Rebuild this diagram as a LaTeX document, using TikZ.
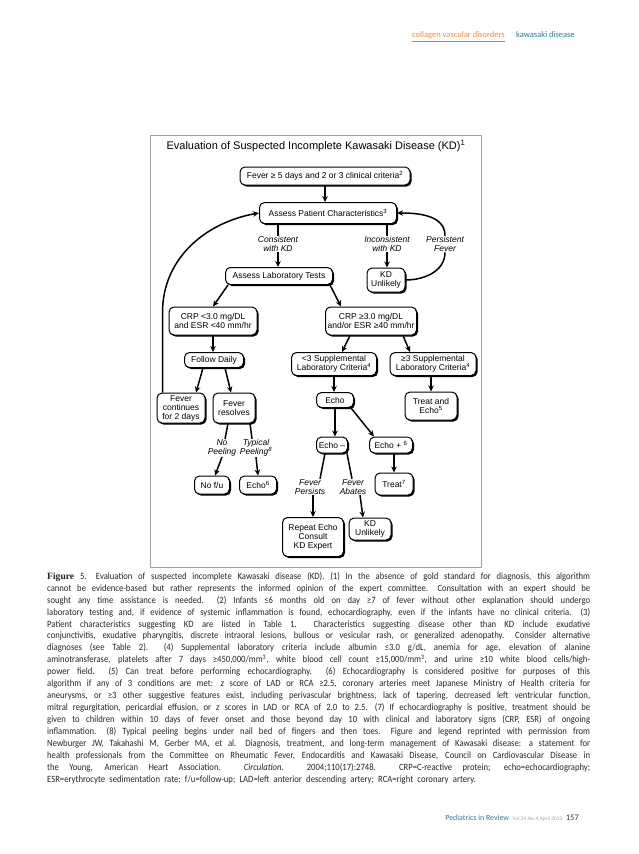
\documentclass[tikz,border=0pt]{standalone}
\usepackage{fontspec}
\setmainfont{Liberation Sans}
\newfontfamily\capfont{Carlito}[FakeStretch=0.9, WordSpace=2.2]
\newfontfamily\hdrfont{Carlito}
\newfontfamily\figfont{Liberation Serif}
\usetikzlibrary{arrows.meta,shadows}
\definecolor{hdrorange}{RGB}{234,142,74}
\definecolor{hdrteal}{RGB}{47,122,150}
\definecolor{framegray}{RGB}{160,160,160}
\newcommand{\capline}[1]{\makebox[543pt][s]{#1}}
\begin{document}
\begin{tikzpicture}[x=1pt,y=-1pt,
    box/.style={draw, line width=1pt, rounded corners=5pt, fill=white, align=center, inner sep=1pt,
      font=\fontsize{8.5}{9}\selectfont,
      drop shadow={shadow xshift=1.5pt, shadow yshift=-1.5pt, opacity=1, fill=black}},
    lbl/.style={align=center, inner sep=0.5pt, font=\fontsize{8.5}{9}\selectfont\itshape},
    arr/.style={line width=1.5pt, -{Stealth[length=6pt,width=5.5pt]}},
    ln/.style={line width=1.5pt}]
  \useasboundingbox (0,0) rectangle (638,854);
  \fill[white] (0,0) rectangle (638,854);
  \node[anchor=base west, inner sep=0, text=hdrorange, font=\hdrfont\fontsize{8.5}{10}\selectfont] (sect) at (412,37) {collagen vascular disorders};
  \node[anchor=base west, inner sep=0, text=hdrteal, font=\hdrfont\fontsize{8.5}{10}\selectfont] (topic) at (516,37) {kawasaki disease};
  \draw[black!45, line width=0.5pt] ([yshift=-3pt]sect.south west) -- ([yshift=-3pt]sect.south east);
  \draw[framegray, line width=0.8pt] (150,135) rectangle (481,567);
  \node[font=\fontsize{11}{13}\selectfont] (title) at (316,146) {Evaluation of Suspected Incomplete Kawasaki Disease (KD)\textsuperscript{1}};
  \node[box, minimum width=170pt, minimum height=18pt] (fev) at (325,176) {Fever ≥ 5 days and 2 or 3 clinical criteria\textsuperscript{2}};
  \node[box, minimum width=137pt, minimum height=21pt] (apc) at (328,213) {Assess Patient Characteristics\textsuperscript{3}};
  \node[lbl] (cons) at (278,244) {Consistent\\with KD};
  \node[lbl] (incons) at (387,244) {Inconsistent\\with KD};
  \node[lbl] (pers) at (445,244) {Persistent\\Fever};
  \node[box, minimum width=107pt, minimum height=17pt] (alt) at (279,276) {Assess Laboratory Tests};
  \node[box, minimum width=38pt, minimum height=24pt] (kdu1) at (386,280) {KD\\Unlikely};
  \node[box, minimum width=88pt, minimum height=28pt] (crpl) at (213,321) {CRP <3.0 mg/DL\\and ESR <40 mm/hr};
  \node[box, minimum width=91pt, minimum height=28pt] (crph) at (371,321) {CRP ≥3.0 mg/DL\\and/or ESR ≥40 mm/hr};
  \node[box, minimum width=59pt, minimum height=15pt] (fd) at (214,360) {Follow Daily};
  \node[box, minimum width=85pt, minimum height=23pt] (supl) at (334,364) {<3 Supplemental\\Laboratory Criteria\textsuperscript{4}};
  \node[box, minimum width=86pt, minimum height=23pt] (suph) at (433,364) {≥3 Supplemental\\Laboratory Criteria\textsuperscript{4}};
  \node[box, minimum width=48pt, minimum height=30pt] (fc) at (181,408) {Fever\\continues\\for 2 days};
  \node[box, minimum width=42pt, minimum height=30pt] (fr) at (234,408) {Fever\\resolves};
  \node[box, minimum width=37pt, minimum height=15pt] (echo) at (335,400) {Echo};
  \node[box, minimum width=52pt, minimum height=28pt] (te) at (431,406) {Treat and\\Echo\textsuperscript{5}};
  \node[box, minimum width=31pt, minimum height=16pt] (echom) at (332,445) {Echo –};
  \node[box, minimum width=43pt, minimum height=16pt] (echop) at (391,445) {Echo + \textsuperscript{6}};
  \node[lbl] (nopeel) at (222,448) {No\\Peeling};
  \node[lbl] (typeel) at (256,448) {Typical\\Peeling\textsuperscript{8}};
  \node[box, minimum width=35pt, minimum height=18pt] (nofu) at (212,485) {No f/u};
  \node[box, minimum width=37pt, minimum height=18pt] (echob) at (258,485) {Echo\textsuperscript{6}};
  \node[lbl] (fpers) at (310,487) {Fever\\Persists};
  \node[lbl] (fabat) at (353,487) {Fever\\Abates};
  \node[box, minimum width=38pt, minimum height=22pt] (treat) at (394,484) {Treat\textsuperscript{7}};
  \node[box, minimum width=61pt, minimum height=39pt] (rep) at (313,537) {Repeat Echo\\Consult\\KD Expert};
  \node[box, minimum width=42pt, minimum height=22pt] (kdu2) at (370,529) {KD\\Unlikely};
  \draw[arr] (fev.south) -- (fev.south |- apc.north);
  \draw[ln] (cons.north |- apc.south) -- (cons.north);
  \draw[arr] (cons.south) -- (cons.south |- alt.north);
  \draw[ln] (incons.north |- apc.south) -- (incons.north);
  \draw[arr] (incons.south) -- (incons.south |- kdu1.north);
  \draw[ln] (kdu1.east) to[out=0,in=-90] (pers.south);
  \draw[arr] (pers.north) to[out=90,in=0] (apc.east);
  \draw[arr] ([xshift=6pt]fc.north west) -- ++(0,-80) to[out=90,in=190] (apc.west);
  \draw[arr] ([xshift=3pt]alt.south west) -- (crpl.north);
  \draw[arr] ([xshift=-3pt]alt.south east) -- ([xshift=16pt]crph.north west);
  \draw[arr] (crpl.south) -- (crpl.south |- fd.north);
  \draw[arr] ([xshift=-11pt]fd.south) -- ([xshift=15pt]fc.north);
  \draw[arr] ([xshift=11pt]fd.south) -- ([xshift=-3pt]fr.north);
  \draw[arr] ([xshift=-21pt]crph.south) -- ([xshift=8pt]supl.north);
  \draw[arr] ([xshift=32pt]crph.south) -- ([xshift=-23pt]suph.north);
  \draw[arr] (supl.south) -- (supl.south |- echo.north);
  \draw[arr] (te.north |- suph.south) -- (te.north);
  \draw[arr] (echo.south) -- (echo.south |- echom.north);
  \draw[arr] ([xshift=-3pt]echo.south east) -- ([xshift=5pt]echop.north west);
  \draw[arr] (treat.north |- echop.south) -- (treat.north);
  \draw[ln] ([xshift=-6pt]fr.south) -- ([xshift=3pt]nopeel.north);
  \draw[ln] ([xshift=16pt]fr.south) -- ([xshift=-4pt]typeel.north);
  \draw[arr] (nopeel.south) -- ([xshift=3pt]nofu.north);
  \draw[arr] (typeel.south) -- (echob.north);
  \draw[ln] ([xshift=-7pt]echom.south) -- ([xshift=10pt]fpers.north);
  \draw[ln] ([xshift=15pt]echom.south) -- ([xshift=-1pt]fabat.north);
  \draw[arr] ([xshift=3pt]fpers.south) -- (rep.north);
  \draw[arr] ([xshift=7pt]fabat.south) -- ([xshift=-7pt]kdu2.north);
  \node[anchor=north west, inner sep=0, align=left, text=black!85, font=\capfont\fontsize{9.6}{11.95}\selectfont] (cap) at (47,572) {%
    \capline{{\figfont\bfseries Figure} 5. Evaluation of suspected incomplete Kawasaki disease (KD). (1) In the absence of gold standard for diagnosis, this algorithm}\\
    \capline{cannot be evidence-based but rather represents the informed opinion of the expert committee. Consultation with an expert should be}\\
    \capline{sought any time assistance is needed. (2) Infants ≤6 months old on day ≥7 of fever without other explanation should undergo}\\
    \capline{laboratory testing and, if evidence of systemic inflammation is found, echocardiography, even if the infants have no clinical criteria. (3)}\\
    \capline{Patient characteristics suggesting KD are listed in Table 1. Characteristics suggesting disease other than KD include exudative}\\
    \capline{conjunctivitis, exudative pharyngitis, discrete intraoral lesions, bullous or vesicular rash, or generalized adenopathy. Consider alternative}\\
    \capline{diagnoses (see Table 2). (4) Supplemental laboratory criteria include albumin ≤3.0 g/dL, anemia for age, elevation of alanine}\\
    \capline{aminotransferase, platelets after 7 days ≥450,000/mm\textsuperscript{3}, white blood cell count ≥15,000/mm\textsuperscript{3}, and urine ≥10 white blood cells/high-}\\
    \capline{power field. (5) Can treat before performing echocardiography. (6) Echocardiography is considered positive for purposes of this}\\
    \capline{algorithm if any of 3 conditions are met: \textit{z} score of LAD or RCA ≥2.5, coronary arteries meet Japanese Ministry of Health criteria for}\\
    \capline{aneurysms, or ≥3 other suggestive features exist, including perivascular brightness, lack of tapering, decreased left ventricular function,}\\
    \capline{mitral regurgitation, pericardial effusion, or \textit{z} scores in LAD or RCA of 2.0 to 2.5. (7) If echocardiography is positive, treatment should be}\\
    \capline{given to children within 10 days of fever onset and those beyond day 10 with clinical and laboratory signs (CRP, ESR) of ongoing}\\
    \capline{inflammation. (8) Typical peeling begins under nail bed of fingers and then toes. Figure and legend reprinted with permission from}\\
    \capline{Newburger JW, Takahashi M, Gerber MA, et al. Diagnosis, treatment, and long-term management of Kawasaki disease: a statement for}\\
    \capline{health professionals from the Committee on Rheumatic Fever, Endocarditis and Kawasaki Disease, Council on Cardiovascular Disease in}\\
    \capline{the Young, American Heart Association. \textit{Circulation}. 2004;110(17):2748. CRP=C-reactive protein; echo=echocardiography;}\\
    ESR=erythrocyte sedimentation rate; f/u=follow-up; LAD=left anterior descending artery; RCA=right coronary artery.};
  \node[anchor=base east, inner sep=0, text=black!80, font=\hdrfont\fontsize{8.5}{9}\selectfont] (page) at (579,820) {157};
  \node[anchor=base east, inner sep=0, text=black!35, font=\hdrfont\fontsize{5.5}{7}\selectfont] (vol) at ([xshift=-3pt]page.base west) {Vol.34 No.4 April 2013};
  \node[anchor=base east, inner sep=0, text=hdrteal, font=\hdrfont\fontsize{7.9}{9}\selectfont] (jour) at ([xshift=-3pt]vol.base west) {Pediatrics in Review};
\end{tikzpicture}
\end{document}
